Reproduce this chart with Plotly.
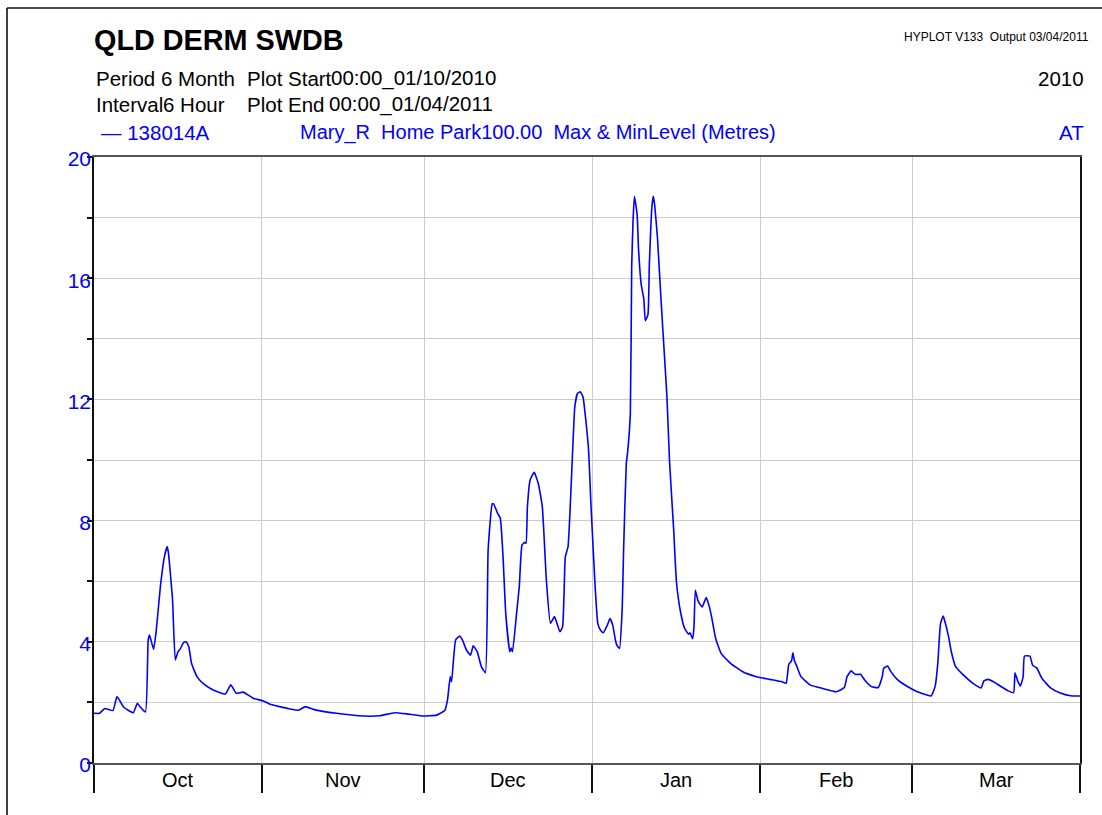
import pandas as pd
import plotly.graph_objects as go

# Station 138014A  Mary River at Home Park - 6-hourly water level (m)
timestamps = [
    "2010-10-01 00:00", "2010-10-02 00:00", "2010-10-03 00:00", "2010-10-04 12:00",
    "2010-10-05 06:00", "2010-10-06 12:00", "2010-10-08 06:00", "2010-10-09 00:00",
    "2010-10-09 12:00", "2010-10-10 12:00", "2010-10-11 00:00", "2010-10-11 06:00",
    "2010-10-12 00:00", "2010-10-12 12:00", "2010-10-13 06:00", "2010-10-14 00:00",
    "2010-10-14 12:00", "2010-10-14 18:00", "2010-10-15 12:00", "2010-10-16 00:00",
    "2010-10-16 12:00", "2010-10-17 00:00", "2010-10-17 12:00", "2010-10-18 00:00",
    "2010-10-18 12:00", "2010-10-19 00:00", "2010-10-20 00:00", "2010-10-21 06:00",
    "2010-10-23 00:00", "2010-10-25 06:00", "2010-10-26 06:00", "2010-10-27 06:00",
    "2010-10-28 12:00", "2010-10-30 12:00", "2010-11-01 06:00", "2010-11-02 12:00",
    "2010-11-04 06:00", "2010-11-06 00:00", "2010-11-07 18:00", "2010-11-09 00:00",
    "2010-11-10 12:00", "2010-11-14 18:00", "2010-11-19 18:00", "2010-11-22 18:00",
    "2010-11-25 12:00", "2010-11-27 18:00", "2010-11-30 12:00", "2010-12-03 06:00",
    "2010-12-04 18:00", "2010-12-05 06:00", "2010-12-05 18:00", "2010-12-06 00:00",
    "2010-12-06 18:00", "2010-12-07 12:00", "2010-12-08 00:00", "2010-12-08 18:00",
    "2010-12-09 12:00", "2010-12-10 00:00", "2010-12-10 18:00", "2010-12-11 12:00",
    "2010-12-12 06:00", "2010-12-12 18:00", "2010-12-13 12:00", "2010-12-13 18:00",
    "2010-12-14 12:00", "2010-12-15 00:00", "2010-12-15 12:00", "2010-12-16 00:00",
    "2010-12-16 18:00", "2010-12-17 00:00", "2010-12-17 06:00", "2010-12-18 00:00",
    "2010-12-18 12:00", "2010-12-19 00:00", "2010-12-19 12:00", "2010-12-19 18:00",
    "2010-12-20 00:00", "2010-12-20 12:00", "2010-12-21 06:00", "2010-12-22 00:00",
    "2010-12-22 18:00", "2010-12-23 12:00", "2010-12-24 06:00", "2010-12-25 00:00",
    "2010-12-26 00:00", "2010-12-26 12:00", "2010-12-27 00:00", "2010-12-27 12:00",
    "2010-12-28 06:00", "2010-12-28 18:00", "2010-12-29 06:00", "2010-12-29 18:00",
    "2010-12-30 06:00", "2010-12-31 06:00", "2010-12-31 18:00", "2011-01-01 12:00",
    "2011-01-02 00:00", "2011-01-02 12:00", "2011-01-03 00:00", "2011-01-03 18:00",
    "2011-01-04 06:00", "2011-01-04 18:00", "2011-01-05 06:00", "2011-01-05 12:00",
    "2011-01-06 00:00", "2011-01-06 12:00", "2011-01-06 18:00", "2011-01-07 06:00",
    "2011-01-07 12:00", "2011-01-08 00:00", "2011-01-08 06:00", "2011-01-08 12:00",
    "2011-01-08 18:00", "2011-01-09 06:00", "2011-01-09 12:00", "2011-01-10 00:00",
    "2011-01-10 12:00", "2011-01-10 18:00", "2011-01-11 06:00", "2011-01-11 12:00",
    "2011-01-12 00:00", "2011-01-12 06:00", "2011-01-12 12:00", "2011-01-13 00:00",
    "2011-01-13 12:00", "2011-01-14 00:00", "2011-01-14 18:00", "2011-01-15 06:00",
    "2011-01-16 00:00", "2011-01-16 12:00", "2011-01-17 06:00", "2011-01-18 00:00",
    "2011-01-18 18:00", "2011-01-19 00:00", "2011-01-19 12:00", "2011-01-19 18:00",
    "2011-01-20 00:00", "2011-01-20 12:00", "2011-01-21 06:00", "2011-01-22 00:00",
    "2011-01-22 12:00", "2011-01-23 00:00", "2011-01-23 18:00", "2011-01-24 18:00",
    "2011-01-26 12:00", "2011-01-28 18:00", "2011-01-31 06:00", "2011-02-02 18:00",
    "2011-02-05 00:00", "2011-02-05 18:00", "2011-02-06 06:00", "2011-02-06 18:00",
    "2011-02-07 00:00", "2011-02-07 06:00", "2011-02-07 18:00", "2011-02-08 12:00",
    "2011-02-10 06:00", "2011-02-12 12:00", "2011-02-15 00:00", "2011-02-16 12:00",
    "2011-02-17 00:00", "2011-02-17 18:00", "2011-02-18 12:00", "2011-02-19 12:00",
    "2011-02-20 06:00", "2011-02-21 12:00", "2011-02-22 18:00", "2011-02-23 12:00",
    "2011-02-23 18:00", "2011-02-24 12:00", "2011-02-25 00:00", "2011-02-26 06:00",
    "2011-02-28 00:00", "2011-03-01 18:00", "2011-03-04 12:00", "2011-03-05 06:00",
    "2011-03-05 18:00", "2011-03-06 06:00", "2011-03-06 18:00", "2011-03-07 00:00",
    "2011-03-07 18:00", "2011-03-08 06:00", "2011-03-09 00:00", "2011-03-10 12:00",
    "2011-03-12 06:00", "2011-03-13 18:00", "2011-03-14 06:00", "2011-03-15 00:00",
    "2011-03-16 06:00", "2011-03-17 06:00", "2011-03-18 18:00", "2011-03-19 18:00",
    "2011-03-20 00:00", "2011-03-20 12:00", "2011-03-21 00:00", "2011-03-21 12:00",
    "2011-03-21 18:00", "2011-03-22 18:00", "2011-03-23 06:00", "2011-03-24 00:00",
    "2011-03-25 00:00", "2011-03-26 12:00", "2011-03-28 06:00", "2011-03-30 06:00",
    "2011-04-01 00:00",
]

level_m = [
    1.64, 1.64, 1.80, 1.73,
    2.19, 1.84, 1.66, 1.97,
    1.86, 1.68, 4.06, 4.22,
    3.75, 4.39, 5.82, 6.81,
    7.14, 6.92, 5.38, 3.40,
    3.67, 3.79, 3.97, 4.00,
    3.84, 3.29, 2.85, 2.61,
    2.41, 2.28, 2.58, 2.30,
    2.34, 2.13, 2.05, 1.94,
    1.86, 1.79, 1.74, 1.86,
    1.77, 1.64, 1.55, 1.56,
    1.66, 1.62, 1.55, 1.58,
    1.73, 2.08, 2.85, 2.68,
    4.06, 4.19, 4.06, 3.73,
    3.56, 3.87, 3.67, 3.18,
    2.98, 7.03, 8.55, 8.55,
    8.24, 8.08, 6.81, 4.94,
    3.67, 3.79, 3.67, 4.94,
    5.82, 7.19, 7.28, 7.25,
    8.46, 9.34, 9.59, 9.23,
    8.46, 6.04, 4.61, 4.83,
    4.33, 4.50, 6.81, 7.14,
    9.89, 11.76, 12.20, 12.25,
    12.09, 10.44, 8.46, 5.82,
    4.60, 4.38, 4.30, 4.55,
    4.77, 4.55, 4.05, 3.89,
    3.78, 5.10, 7.00, 9.88,
    10.26, 11.53, 16.40, 17.90,
    18.70, 18.10, 17.00, 15.80,
    15.30, 14.60, 14.80, 16.40,
    18.40, 18.70, 18.40, 17.35,
    15.80, 14.30, 12.10, 9.90,
    7.70, 6.00, 5.00, 4.45,
    4.25, 4.30, 4.10, 4.50,
    5.70, 5.35, 5.15, 5.46,
    5.21, 4.82, 4.11, 3.62,
    3.29, 3.01, 2.85, 2.76,
    2.68, 2.63, 3.26, 3.37,
    3.64, 3.40, 3.18, 2.85,
    2.57, 2.46, 2.35, 2.49,
    2.85, 3.04, 2.92, 2.93,
    2.74, 2.52, 2.49, 2.85,
    3.12, 3.20, 3.04, 2.76,
    2.54, 2.37, 2.21, 2.52,
    3.29, 4.60, 4.85, 4.71,
    4.16, 3.67, 3.20, 2.90,
    2.63, 2.48, 2.71, 2.76,
    2.66, 2.54, 2.38, 2.32,
    2.98, 2.71, 2.54, 2.85,
    3.53, 3.53, 3.23, 3.14,
    2.79, 2.49, 2.32, 2.22,
    2.21,
]

# Axis ticks
month_starts = ["2010-10-01", "2010-11-01", "2010-12-01", "2011-01-01",
                "2011-02-01", "2011-03-01", "2011-04-01"]
month_names = ["Oct", "Nov", "Dec", "Jan", "Feb", "Mar"]
y_tick_values = [0, 2, 4, 6, 8, 10, 12, 14, 16, 18, 20]
y_tick_labels = ["0", "", "4", "", "8", "", "12", "", "16", "", "20"]

# Page geometry (pixels)
W, H = 1102, 815
PL, PR, PT, PB = 94, 1080, 157, 763
FONT = "Liberation Sans, Arial, Helvetica, sans-serif"
BLUE = "#0000ff"
TXT = 20.5


def px_x(px):
    return (px - PL) / (PR - PL)


def px_y(py):
    return (PB - py) / (PB - PT)


def label(text, px, py, size, color="#000000", anchor="left", bold=False):
    return dict(
        text=f"<b>{text}</b>" if bold else text,
        x=px_x(px), y=px_y(py), xref="paper", yref="paper",
        xanchor=anchor, yanchor="middle", showarrow=False,
        font=dict(family=FONT, size=size, color=color),
    )


fig = go.Figure()
fig.add_trace(go.Scatter(
    x=pd.to_datetime(timestamps), y=level_m, mode="lines",
    line=dict(color=BLUE, width=1.6, shape="spline", smoothing=0.4),
    hoverinfo="x+y", showlegend=False,
))

annotations = [
    label("QLD DERM SWDB", 92, 40, 28.8, bold=True),
    label("HYPLOT V133  Output 03/04/2011", 1091, 37, 12, anchor="right"),
    label("Period 6 Month", 94, 78, TXT),
    label("Plot Start", 245, 78, TXT),
    label("00:00_01/10/2010", 329, 78, TXT),
    label("2010", 1086, 78, TXT, anchor="right"),
    label("Interval", 94, 104, TXT),
    label("6 Hour", 161, 104, TXT),
    label("Plot End", 245, 104, TXT),
    label("00:00_01/04/2011", 327, 104, TXT),
    label("\u2014 138014A", 99, 133, TXT, color=BLUE),
    label("Mary_R  Home Park100.00  Max & MinLevel (Metres)", 298, 133, 20,
          color=BLUE),
    label("AT", 1086, 133, TXT, color=BLUE, anchor="right"),
]

# Month names centred between the month boundary ticks
starts = pd.to_datetime(month_starts)
for name, a, b in zip(month_names, starts[:-1], starts[1:]):
    annotations.append(dict(
        text=name, x=a + (b - a) / 2, y=px_y(780), xref="x", yref="paper",
        xanchor="center", yanchor="middle", showarrow=False,
        font=dict(family=FONT, size=20, color="#000000"),
    ))

# Outer page frame (left and top edges)
shapes = [
    dict(type="line", xref="paper", yref="paper", x0=px_x(7), x1=px_x(7),
         y0=px_y(8), y1=px_y(820), line=dict(color="#111111", width=1.6)),
    dict(type="line", xref="paper", yref="paper", x0=px_x(7), x1=px_x(1110),
         y0=px_y(8), y1=px_y(8), line=dict(color="#111111", width=1.6)),
]

fig.update_layout(
    width=W, height=H,
    margin=dict(l=PL, r=W - PR, t=PT, b=H - PB, pad=0),
    paper_bgcolor="white", plot_bgcolor="white",
    annotations=annotations, shapes=shapes,
    font=dict(family=FONT),
)

fig.update_xaxes(
    type="date",
    range=[month_starts[0], month_starts[-1]],
    tickmode="array", tickvals=month_starts, ticktext=[""] * len(month_starts),
    ticks="outside", ticklen=28, tickwidth=1.5, tickcolor="#111111",
    showgrid=True, gridcolor="#cccccc", gridwidth=1,
    showline=True, linecolor="#555555", linewidth=2, mirror=True,
    zeroline=False,
)

fig.update_yaxes(
    range=[0, 20],
    tickmode="array", tickvals=y_tick_values, ticktext=y_tick_labels,
    ticks="outside", ticklen=5, tickwidth=1.5, tickcolor="#111111",
    tickfont=dict(family=FONT, size=21, color=BLUE),
    ticklabelstandoff=-8, ticklabelshift=2,
    showgrid=True, gridcolor="#cccccc", gridwidth=1,
    showline=True, linecolor="#111111", linewidth=1.5, mirror=True,
    zeroline=False,
)

fig.write_html("out.html")
